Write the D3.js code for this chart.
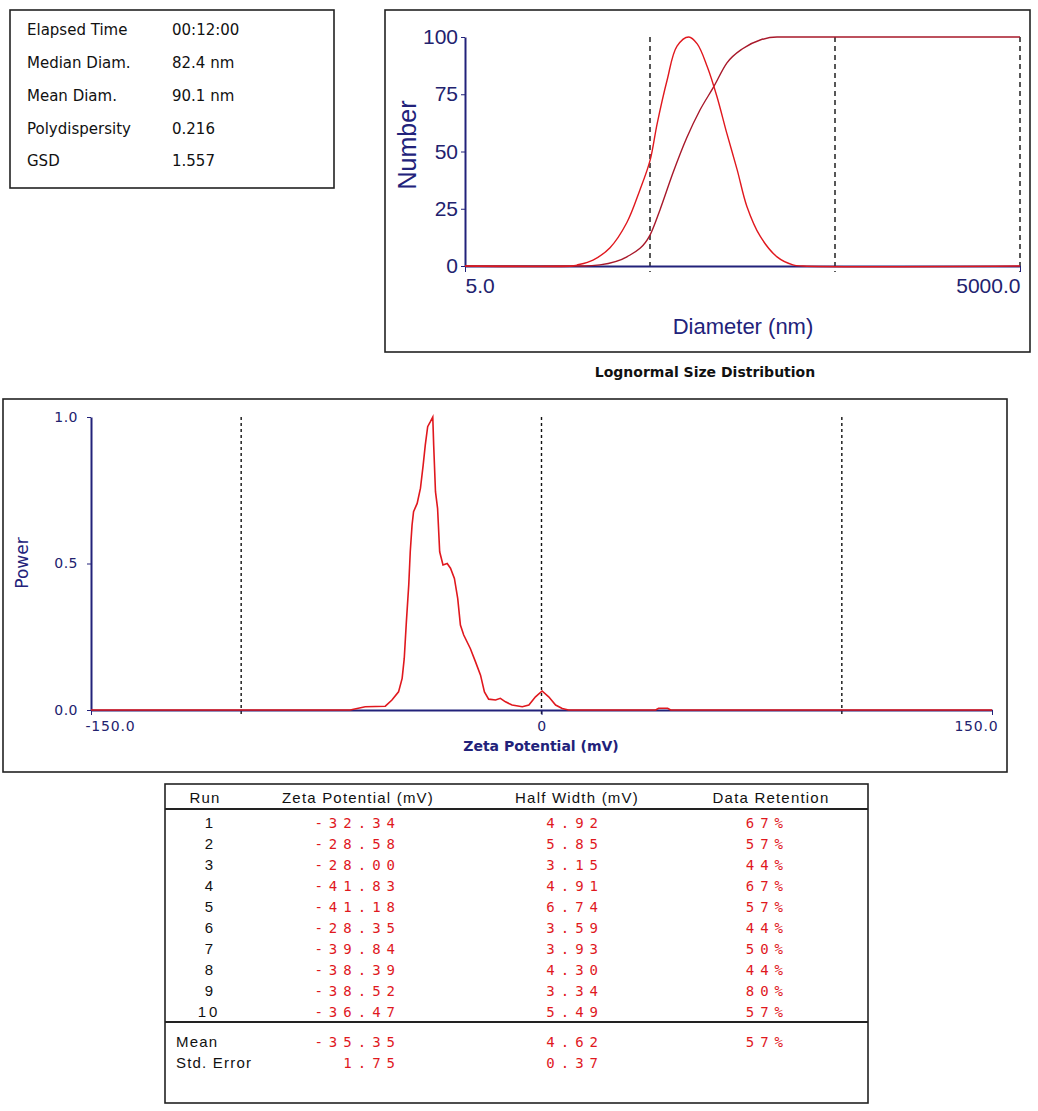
<!DOCTYPE html>
<html lang="en">
<head>
<meta charset="UTF-8">
<title>Zeta Potential Report</title>
<script src="https://d3js.org/d3.v7.min.js"></script>
<style>
    body { margin: 0; padding: 0; background: #fff; }
    svg { display: block; }
    .axis path, .axis line { stroke: #22227a; }
    .axis text { fill: #22226e; }
</style>
</head>
<body>
<svg id="vis" width="1038" height="1111"></svg>
<script>
    // ---- summary box ----
    const infoLabels = ["Elapsed Time", "Median Diam.", "Mean Diam.", "Polydispersity", "GSD"];
    const infoValues = ["00:12:00", "82.4 nm", "90.1 nm", "0.216", "1.557"];

    // ---- lognormal size distribution (diameter nm -> number) ----
    const sizeDiam   = [5, 19, 20.1, 24.6, 30.4, 37.5, 44, 50, 54.6, 61.8, 70, 81, 90, 102, 115, 130, 148, 167, 197, 243, 296, 336, 5000];
    const sizeNumber = [0, 0, 0.4, 2.6, 8, 19, 33, 46, 62, 81, 96, 100, 97, 87, 74, 58, 42, 26, 13, 4, 0.5, 0, 0];
    const cumDiam    = [5, 22, 26.8, 37.5, 50, 56.6, 66.5, 79, 93, 110, 130, 159, 197, 243, 5000];
    const cumNumber  = [0, 0, 0.5, 4, 13.5, 24.5, 40.6, 56, 68, 78, 88.6, 95, 98.7, 100, 100];
    const sizeGrid   = [50, 500, 5000];

    // ---- zeta potential distribution (mV -> power) ----
    const zetaMv = [-150, -63.7, -58.7, -52, -49.8, -47.6, -46.4, -45.7, -45, -44.2, -43.7, -43.1, -42.6, -41.4, -40.3,
        -39.4, -38.7, -37.9, -37, -36.2, -35.9, -35.3, -34.6, -33.9, -32.8, -31.4, -30.3, -29, -27.9, -27, -25.9,
        -23.7, -22, -20.3, -19, -17.6, -15.3, -13.7, -12, -9.8, -6.4, -4.2, -2, 0.2, 2.4, 4.7, 6.9, 9, 38, 39, 42, 43, 150];
    const zetaPower = [0, 0, 0.011, 0.013, 0.034, 0.062, 0.108, 0.176, 0.30, 0.427, 0.54, 0.631, 0.677, 0.705, 0.757,
        0.836, 0.904, 0.967, 0.984, 1.0, 0.904, 0.745, 0.688, 0.54, 0.495, 0.50, 0.484, 0.449, 0.381, 0.29, 0.256,
        0.21, 0.165, 0.119, 0.062, 0.037, 0.034, 0.04, 0.028, 0.017, 0.011, 0.017, 0.045, 0.065, 0.045, 0.017, 0.005, 0, 0, 0.006, 0.006, 0, 0];
    const zetaGrid = [-100, 0, 100];

    // ---- run table ----
    const runs       = ["1", "2", "3", "4", "5", "6", "7", "8", "9", "10"];
    const runZeta    = ["-32.34", "-28.58", "-28.00", "-41.83", "-41.18", "-28.35", "-39.84", "-38.39", "-38.52", "-36.47"];
    const runHalf    = ["4.92", "5.85", "3.15", "4.91", "6.74", "3.59", "3.93", "4.30", "3.34", "5.49"];
    const runRetain  = ["67%", "57%", "44%", "67%", "57%", "44%", "50%", "44%", "80%", "57%"];
    const summaryLabels = ["Mean", "Std. Error"];
    const summaryZeta   = ["-35.35", "1.75"];
    const summaryHalf   = ["4.62", "0.37"];
    const summaryRetain = ["57%", ""];

    const svg = d3.select("#vis");
    const NAVY = "#22227a";
    const RED = "#e0181e";
    const DARKRED = "#a8182a";

    function box(x, y, w, h) {
        svg.append("rect").attr("x", x).attr("y", y).attr("width", w).attr("height", h)
            .attr("fill", "none").attr("stroke", "#222").attr("stroke-width", 1.6);
    }

    // ---------- info box ----------
    box(10, 10, 324, 178);
    const info = svg.append("g").style("font-family", "DejaVu Sans, sans-serif").style("font-size", "15px").attr("fill", "#111");
    infoLabels.forEach((l, i) => {
        const y = 30 + i * 32.8;
        info.append("text").attr("x", 27).attr("y", y).attr("dy", "0.35em").text(l);
        info.append("text").attr("x", 172).attr("y", y).attr("dy", "0.35em").text(infoValues[i]);
    });

    // ---------- size distribution ----------
    box(385, 10, 645, 342);
    const sx = d3.scaleLog().domain([5, 5000]).range([465, 1020]);
    const sy = d3.scaleLinear().domain([0, 100]).range([266, 37]);

    const sg = svg.append("g");
    sg.selectAll("line.grid").data(sizeGrid).join("line")
        .attr("x1", d => sx(d)).attr("x2", d => sx(d))
        .attr("y1", sy(100)).attr("y2", sy(0) + 6)
        .attr("stroke", "#111").attr("stroke-width", 1.4).attr("stroke-dasharray", "5,4");

    const tickFont = "Liberation Sans Narrow, Liberation Sans, sans-serif";
    const sYAxis = sg.append("g").attr("class", "axis").attr("transform", `translate(${sx(5)},0)`)
        .call(d3.axisLeft(sy).tickValues([0, 25, 50, 75, 100]).tickSize(4).tickPadding(3).tickSizeOuter(0));
    sYAxis.select(".domain").attr("stroke-width", 2);
    sYAxis.selectAll("text").style("font-family", tickFont).style("font-size", "21px");

    const sXAxis = sg.append("g").attr("class", "axis").attr("transform", `translate(0,${sy(0)})`)
        .call(d3.axisBottom(sx).tickValues([5, 5000]).tickSize(6).tickPadding(6).tickSizeOuter(0)
            .tickFormat(d3.format(".1f")));
    sXAxis.select(".domain").attr("stroke-width", 2);
    sXAxis.selectAll("text").style("font-family", tickFont).style("font-size", "21px")
        .attr("text-anchor", d => d === 5 ? "start" : "end");

    const distLine = d3.line().x(d => sx(d[0])).y(d => sy(d[1])).curve(d3.curveCatmullRom.alpha(0.5));
    const cumLine = d3.line().x(d => sx(d[0])).y(d => sy(d[1])).curve(d3.curveMonotoneX);
    sg.append("path").datum(d3.zip(cumDiam, cumNumber)).attr("d", cumLine)
        .attr("fill", "none").attr("stroke", DARKRED).attr("stroke-width", 1.4);
    sg.append("path").datum(d3.zip(sizeDiam, sizeNumber)).attr("d", distLine)
        .attr("fill", "none").attr("stroke", RED).attr("stroke-width", 1.4);

    sg.append("text").attr("x", 743).attr("y", 326).attr("dy", "0.35em").attr("text-anchor", "middle")
        .attr("fill", NAVY).style("font-family", tickFont)
        .style("font-size", "22px").text("Diameter (nm)");
    sg.append("text").attr("transform", "translate(407,145) rotate(-90)").attr("dy", "0.35em")
        .attr("text-anchor", "middle").attr("fill", NAVY).style("font-family", tickFont)
        .style("font-size", "25px").text("Number");

    svg.append("text").attr("x", 705).attr("y", 372).attr("dy", "0.35em").attr("text-anchor", "middle")
        .attr("fill", "#111").style("font-family", "DejaVu Sans, sans-serif").style("font-size", "14px")
        .style("font-weight", "bold").text("Lognormal Size Distribution");

    // ---------- zeta potential ----------
    box(3, 399, 1004, 373);
    const zx = d3.scaleLinear().domain([-150, 150]).range([91, 992]);
    const zy = d3.scaleLinear().domain([0, 1]).range([710, 417]);
    const zg = svg.append("g");

    zg.selectAll("line.grid").data(zetaGrid).join("line")
        .attr("x1", d => zx(d)).attr("x2", d => zx(d))
        .attr("y1", zy(1)).attr("y2", zy(0) + 5)
        .attr("stroke", "#111").attr("stroke-width", 1.4).attr("stroke-dasharray", "3,3");

    const numFmt = d => d3.format(".1f")(d).replace("\u2212", "-");
    const zYAxis = zg.append("g").attr("class", "axis").attr("transform", `translate(${zx(-150)},0)`)
        .call(d3.axisLeft(zy).tickValues([0, 0.5, 1]).tickSize(4).tickPadding(9).tickSizeOuter(0)
            .tickFormat(numFmt));
    zYAxis.select(".domain").attr("stroke-width", 2);
    zYAxis.selectAll("text").style("font-family", "DejaVu Sans, sans-serif").style("font-size", "14px")
        .style("letter-spacing", "0.5px");

    const zXAxis = zg.append("g").attr("class", "axis").attr("transform", `translate(0,${zy(0)})`)
        .call(d3.axisBottom(zx).tickValues([-150, 0, 150]).tickSize(5).tickPadding(6).tickSizeOuter(0)
            .tickFormat(d => d === 0 ? "0" : numFmt(d)));
    zXAxis.select(".domain").attr("stroke-width", 2);
    zXAxis.selectAll("text").style("font-family", "DejaVu Sans, sans-serif").style("font-size", "14px")
        .style("letter-spacing", "0.8px")
        .attr("text-anchor", d => d === -150 ? "start" : d === 150 ? "end" : "middle")
        .attr("dx", d => d === -150 ? -6 : d === 150 ? 6 : 0);

    const zetaLine = d3.line().x(d => zx(d[0])).y(d => zy(d[1])).curve(d3.curveLinear);
    zg.append("path").datum(d3.zip(zetaMv, zetaPower)).attr("d", zetaLine)
        .attr("fill", "none").attr("stroke", RED).attr("stroke-width", 1.6);

    zg.append("text").attr("x", 541).attr("y", 746).attr("dy", "0.35em").attr("text-anchor", "middle")
        .attr("fill", NAVY).style("font-family", "DejaVu Sans, sans-serif").style("font-size", "14px")
        .style("font-weight", "bold").text("Zeta Potential (mV)");
    zg.append("text").attr("transform", "translate(22,563) rotate(-90)").attr("dy", "0.35em")
        .attr("text-anchor", "middle").attr("fill", NAVY).style("font-family", "DejaVu Sans, sans-serif")
        .style("font-size", "17px").text("Power");

    // ---------- run table ----------
    box(165, 784, 703, 319);
    svg.append("line").attr("x1", 165).attr("x2", 868).attr("y1", 809).attr("y2", 809)
        .attr("stroke", "#222").attr("stroke-width", 2);
    svg.append("line").attr("x1", 165).attr("x2", 868).attr("y1", 1022).attr("y2", 1022)
        .attr("stroke", "#222").attr("stroke-width", 2);

    const tg = svg.append("g").style("font-family", "Liberation Sans, sans-serif").style("font-size", "15px")
        .style("letter-spacing", "1.2px");
    const headers = [["Run", 205], ["Zeta Potential (mV)", 358], ["Half Width (mV)", 577], ["Data Retention", 771]];
    tg.selectAll("text.head").data(headers).join("text").attr("class", "head")
        .attr("x", d => d[1]).attr("y", 798).attr("dy", "0.35em").attr("text-anchor", "middle")
        .attr("fill", "#111").text(d => d[0]);

    function redCell(x, y, txt) {
        tg.append("text").attr("x", x).attr("y", y).attr("dy", "0.35em").attr("text-anchor", "end")
            .attr("fill", RED).style("font-family", "DejaVu Sans Mono, monospace").style("font-size", "14px")
            .style("letter-spacing", "6px").text(txt);
    }

    runs.forEach((r, i) => {
        const y = 823 + i * 21;
        tg.append("text").attr("x", 209).attr("y", y).attr("dy", "0.35em").attr("text-anchor", "middle")
            .attr("fill", "#111").style("letter-spacing", r.length > 1 ? "3px" : "0px").text(r);
        redCell(401, y, runZeta[i]);
        redCell(604, y, runHalf[i]);
        redCell(789, y, runRetain[i]);
    });

    summaryLabels.forEach((l, i) => {
        const y = 1042 + i * 21;
        tg.append("text").attr("x", 176).attr("y", y).attr("dy", "0.35em").attr("fill", "#111").text(l);
        redCell(401, y, summaryZeta[i]);
        redCell(604, y, summaryHalf[i]);
        if (summaryRetain[i]) redCell(789, y, summaryRetain[i]);
    });
</script>
</body>
</html>
